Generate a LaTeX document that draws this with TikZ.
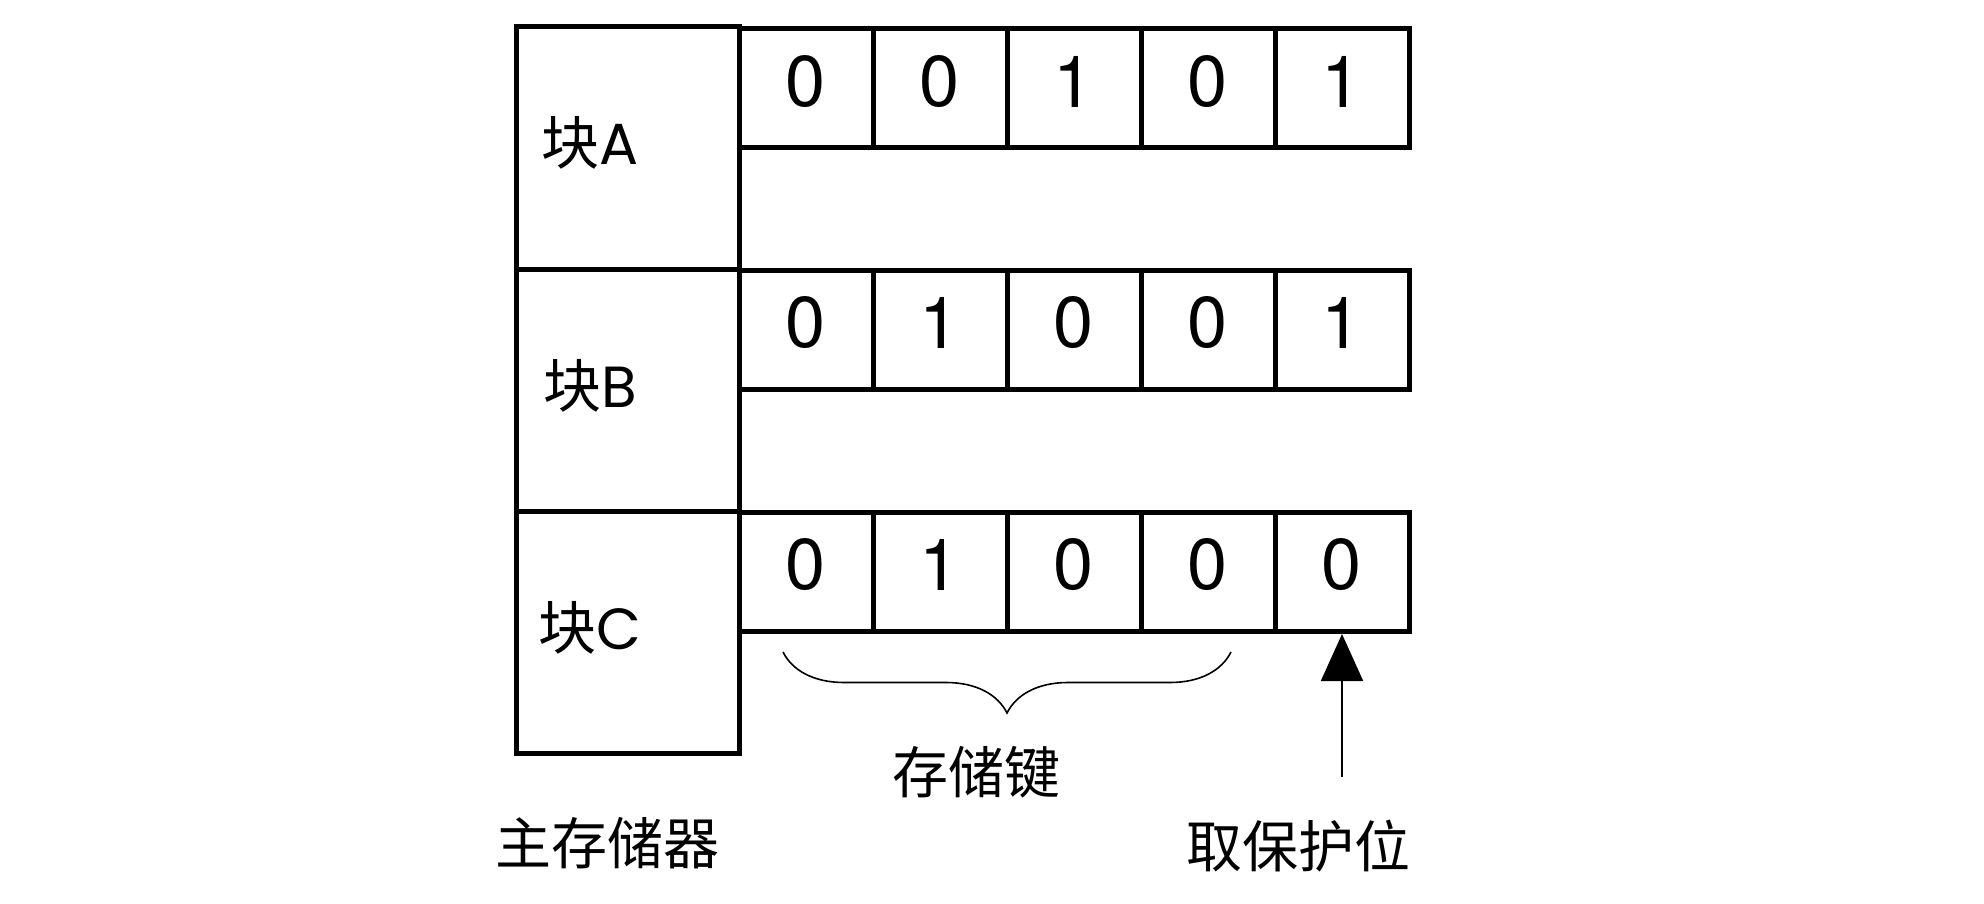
\documentclass[tikz,border=0pt]{standalone}
\usepackage{fontspec}
\setmainfont{Poppins}
\newfontfamily\digitfont{TeX Gyre Heros}
\newfontfamily\cjk{Noto Sans CJK SC}
\usetikzlibrary{arrows.meta,decorations.pathreplacing}
\begin{document}
\begin{tikzpicture}[x=1pt,y=-1pt,
  mem/.style={draw,line width=5pt,inner sep=0pt,minimum width=223pt,minimum height=242pt},
  cell/.style={draw,line width=5pt,inner sep=0pt,minimum width=134pt,minimum height=119pt},
  digit/.style={inner sep=0pt,font=\digitfont\fontsize{72}{80}\selectfont},
  blk/.style={inner sep=0pt,font=\fontsize{58}{64}\selectfont},
  captext/.style={inner sep=0pt,font=\cjk\fontsize{56}{64}\selectfont}]
\useasboundingbox (0,0) rectangle (1984,904);
% main memory blocks
\node[mem] (mA) at (627.5,148) {};
\node[mem] (mB) at (627.5,390) {};
\node[mem] (mC) at (627.5,632.5) {};
\node[blk] (tA) at (590,143) {{\cjk 块}A};
\node[blk] (tB) at (590,386) {{\cjk 块}B};
\node[blk] (tC) at (590,628) {{\cjk 块}C};
% key cells
\foreach \r/\y/\bits in {A/88.5/{0,0,1,0,1},B/330/{0,1,0,0,1},C/572/{0,1,0,0,0}}{
  \foreach \b [count=\i] in \bits {
    \node[cell] (\r\i) at ({739+134*(\i-1)+67},\y) {};
    \node[digit] (d\r\i) at ([yshift=7pt]\r\i.center) {\b};
  }
}
% brace under key bits
\coordinate (bl) at (783,652);
\coordinate (br) at (1231,652);
\draw[line width=1.6pt,decorate,decoration={brace,amplitude=61pt}] (br) -- (bl);
% protection bit arrow
\coordinate (pa) at (1342,777);
\draw[line width=2pt,-{Triangle[length=47pt,width=42pt]}] (pa) -- (C5.south);
% captions
\node[captext] (key) at (976,772) {存储键};
\node[captext] (memlbl) at (607,843) {主存储器};
\node[captext] (prot) at (1298,846) {取保护位};
\end{tikzpicture}
\end{document}
